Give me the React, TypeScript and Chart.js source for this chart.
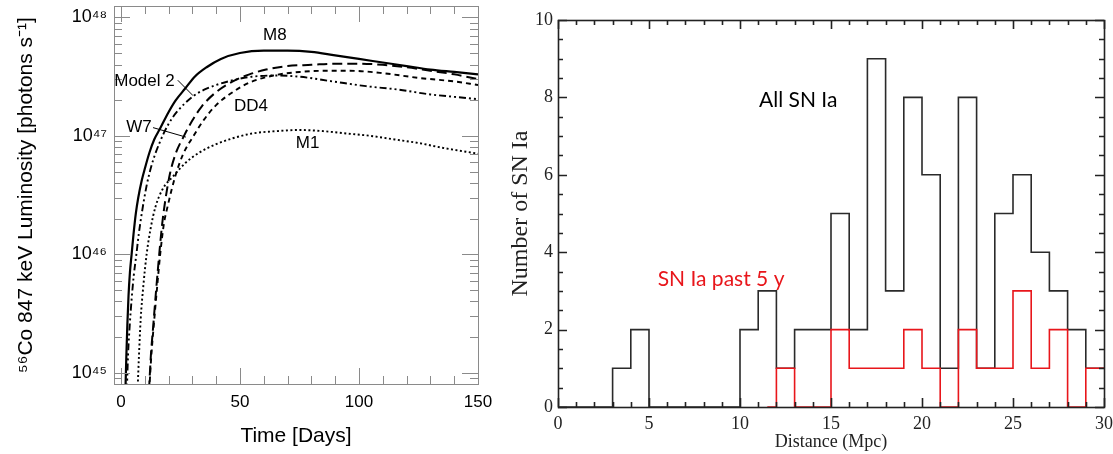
import React, { useEffect, useRef } from 'react';
import { Chart, registerables } from 'chart.js';

Chart.register(...registerables);

const SANS = '"Liberation Sans", Arial, Helvetica, sans-serif';
const SERIF = '"Liberation Serif", "Times New Roman", serif';
const CALI = 'Lato, "Open Sans", sans-serif';

// ---------------- Left panel: 56Co 847 keV light curves (log10 photons/s) ----------------
const m8Days = [1.9, 2.3, 2.7, 3.2, 3.8, 4.5, 5.3, 6.3, 7.3, 8.7, 10, 12, 14, 16.4, 20, 23, 27, 31, 36, 42, 50, 60, 70, 80, 90, 100, 110, 120, 130, 140, 150];
const m8Log = [44.85, 45.15, 45.4, 45.65, 45.85, 46.0, 46.17, 46.35, 46.48, 46.62, 46.72, 46.86, 46.97, 47.06, 47.2, 47.3, 47.4, 47.5, 47.58, 47.65, 47.7, 47.72, 47.72, 47.71, 47.68, 47.65, 47.62, 47.59, 47.56, 47.54, 47.52];

const model2Days = [2.5, 3.0, 3.7, 4.5, 5.4, 6.5, 7.5, 8.8, 10.8, 13, 16.4, 20, 23.4, 30, 35, 40, 47, 55, 65, 75, 89, 103, 117, 130, 140, 150];
const model2Log = [44.85, 45.15, 45.4, 45.62, 45.82, 46.0, 46.17, 46.35, 46.58, 46.76, 46.95, 47.1, 47.2, 47.33, 47.39, 47.43, 47.47, 47.5, 47.51, 47.5, 47.46, 47.42, 47.39, 47.35, 47.33, 47.31];

const w7Days = [11.8, 12.6, 13.6, 14.8, 16.1, 17.3, 18.6, 20.6, 23, 26.5, 30, 34, 40, 47, 54, 61, 70, 80, 90, 100, 110, 120, 130, 140, 150];
const w7Log = [44.85, 45.15, 45.4, 45.7, 46.0, 46.25, 46.45, 46.68, 46.85, 47.0, 47.13, 47.25, 47.37, 47.46, 47.52, 47.56, 47.59, 47.6, 47.61, 47.61, 47.6, 47.58, 47.55, 47.52, 47.48];

const dd4Days = [11.9, 12.8, 13.8, 15.2, 16.5, 18, 19.8, 22.7, 26, 30.5, 35, 40, 47, 54, 64, 75, 85, 96, 110, 125, 140, 150];
const dd4Log = [44.85, 45.15, 45.4, 45.72, 46.0, 46.25, 46.42, 46.65, 46.84, 47.0, 47.14, 47.26, 47.37, 47.45, 47.51, 47.54, 47.55, 47.55, 47.53, 47.49, 47.46, 47.43];

const m1Days = [7.0, 7.6, 8.3, 9.5, 10.8, 12.5, 14.5, 17.5, 22, 27, 33, 40, 47, 55, 65, 75, 85, 95, 105, 115, 125, 135, 150];
const m1Log = [44.85, 45.15, 45.45, 45.75, 46.0, 46.22, 46.4, 46.55, 46.66, 46.77, 46.86, 46.93, 46.98, 47.02, 47.04, 47.05, 47.04, 47.02, 47.0, 46.97, 46.94, 46.9, 46.85];

const timeTicks = [0, 50, 100, 150];
const lumTicks = [1e45, 1e46, 1e47, 1e48];
const lumTickLabels = ['10\u2074\u2075', '10\u2074\u2076', '10\u2074\u2077', '10\u2074\u2078'];

const curveNames = ['M8', 'Model 2', 'W7', 'DD4', 'M1'];
const curveNameDays = [64.7, 9.9, 7.6, 54.6, 78.4];
const curveNameLogs = [47.85, 47.465, 47.07, 47.25, 46.94];

// ---------------- Right panel: SN Ia distance histogram ----------------
const binEdges = [0, 1, 2, 3, 4, 5, 6, 7, 8, 9, 10, 11, 12, 13, 14, 15, 16, 17, 18, 19, 20, 21, 22, 23, 24, 25, 26, 27, 28, 29];
const allCounts = [0, 0, 0, 1, 2, 0, 0, 0, 0, 0, 2, 3, 1, 2, 2, 5, 2, 9, 3, 8, 6, 1, 8, 1, 5, 6, 4, 3, 2, 1];
const recentEdges = [11.5, 12, 13, 14, 15, 16, 17, 18, 19, 20, 21, 22, 23, 24, 25, 26, 27, 28, 29];
const recentCounts = [0, 1, 0, 0, 2, 1, 1, 1, 2, 1, 0, 2, 1, 1, 3, 1, 2, 0, 1];
const distanceTicks = [0, 5, 10, 15, 20, 25, 30];
const countTicks = [0, 2, 4, 6, 8, 10];

const toPoints = (xs: number[], logs: number[]) => xs.map((x, i) => ({ x, y: Math.pow(10, logs[i]) }));
const toSteps = (edges: number[], counts: number[], end: number) =>
  edges.map((x, i) => ({ x, y: counts[i] })).concat([{ x: end, y: counts[counts.length - 1] }]);

const frameTicksPlugin = {
  id: 'frameTicks',
  afterDatasetsDraw(chart: any, _args: any, o: any) {
    const { ctx, chartArea: a } = chart;
    const xs = chart.scales.x;
    const ys = chart.scales.y;
    const r = (v: number) => Math.round(v) + 0.5;
    ctx.save();
    ctx.strokeStyle = o.color;
    ctx.lineWidth = o.lineWidth;
    ctx.beginPath();
    const xt = (v: number, len: number) => {
      if (v < xs.min || v > xs.max) return;
      const p = r(xs.getPixelForValue(v));
      ctx.moveTo(p, a.bottom);
      ctx.lineTo(p, a.bottom - len);
      ctx.moveTo(p, a.top);
      ctx.lineTo(p, a.top + len);
    };
    const yt = (v: number, len: number) => {
      if (v < ys.min || v > ys.max) return;
      const p = r(ys.getPixelForValue(v));
      ctx.moveTo(a.left, p);
      ctx.lineTo(a.left + len, p);
      ctx.moveTo(a.right, p);
      ctx.lineTo(a.right - len, p);
    };
    o.xMinor.forEach((v: number) => xt(v, o.minorLen));
    o.xMajor.forEach((v: number) => xt(v, o.majorLen));
    o.yMinor.forEach((v: number) => yt(v, o.minorLen));
    o.yMajor.forEach((v: number) => yt(v, o.majorLen));
    ctx.stroke();
    ctx.strokeRect(r(a.left), r(a.top), Math.round(a.right - a.left), Math.round(a.bottom - a.top));
    ctx.restore();
  },
};

const notesPlugin = {
  id: 'notes',
  afterDatasetsDraw(chart: any, _args: any, o: any) {
    const { ctx } = chart;
    const xs = chart.scales.x;
    const ys = chart.scales.y;
    ctx.save();
    (o.lines || []).forEach((l: any) => {
      ctx.strokeStyle = l.color;
      ctx.lineWidth = l.width;
      ctx.beginPath();
      ctx.moveTo(xs.getPixelForValue(l.x1), ys.getPixelForValue(l.y1));
      ctx.lineTo(xs.getPixelForValue(l.x2), ys.getPixelForValue(l.y2));
      ctx.stroke();
    });
    (o.texts || []).forEach((t: any) => {
      ctx.font = t.font;
      ctx.fillStyle = t.color;
      ctx.textAlign = 'center';
      ctx.textBaseline = 'middle';
      ctx.fillText(t.text, xs.getPixelForValue(t.x), ys.getPixelForValue(t.y));
    });
    ctx.restore();
  },
};

const fitX = (h: number) => (s: any) => {
  s.height = h;
  s.paddingLeft = 0;
  s.paddingRight = 0;
};
const fitY = (w: number) => (s: any) => {
  s.width = w;
  s.paddingTop = 0;
  s.paddingBottom = 0;
};

function leftConfig(): any {
  const line = (label: string, days: number[], logs: number[], dash: number[], width: number) => ({
    label,
    data: toPoints(days, logs),
    borderColor: '#000',
    borderWidth: width,
    borderDash: dash,
    pointRadius: 0,
    fill: false,
    cubicInterpolationMode: 'monotone',
  });
  const yMinor: number[] = [];
  for (let n = 44; n <= 48; n++) for (let k = 2; k <= 9; k++) yMinor.push(k * Math.pow(10, n));
  const xMinor: number[] = [];
  for (let d = 0; d <= 150; d += 10) xMinor.push(d);
  return {
    type: 'line',
    data: {
      datasets: [
        line('M8', m8Days, m8Log, [], 2.2),
        line('W7', w7Days, w7Log, [10, 5], 2),
        line('DD4', dd4Days, dd4Log, [5, 4], 1.9),
        line('Model 2', model2Days, model2Log, [7, 3, 2, 3, 2, 3], 1.9),
        line('M1', m1Days, m1Log, [2, 2.5], 1.9),
      ],
    },
    options: {
      responsive: false,
      animation: false,
      layout: { padding: { left: 0, right: 22, top: 6, bottom: 0 } },
      plugins: {
        legend: { display: false },
        tooltip: { enabled: false },
        frameTicks: {
          color: '#8a8a8a',
          lineWidth: 1,
          majorLen: 16,
          minorLen: 8,
          xMajor: timeTicks,
          xMinor,
          yMajor: lumTicks,
          yMinor,
        },
        notes: {
          lines: [
            { x1: 23.9, y1: Math.pow(10, 47.47), x2: 30.3, y2: Math.pow(10, 47.34), color: '#000', width: 1 },
            { x1: 13.5, y1: Math.pow(10, 47.07), x2: 27.3, y2: Math.pow(10, 46.99), color: '#000', width: 1 },
          ],
          texts: curveNames.map((t, i) => ({
            text: t,
            x: curveNameDays[i],
            y: Math.pow(10, curveNameLogs[i]),
            font: `17px ${SANS}`,
            color: '#000',
          })),
        },
      },
      scales: {
        x: {
          type: 'linear',
          min: -2.9,
          max: 150,
          afterBuildTicks: (s: any) => {
            s.ticks = timeTicks.map((v) => ({ value: v }));
          },
          afterFit: fitX(70),
          grid: { display: false, drawTicks: false },
          border: { display: false },
          ticks: { font: { family: SANS, size: 17 }, color: '#000', padding: 8, maxRotation: 0 },
          title: {
            display: true,
            text: 'Time [Days]',
            font: { family: SANS, size: 21 },
            color: '#000',
            padding: { top: 0, bottom: 5 },
          },
        },
        y: {
          type: 'logarithmic',
          min: Math.pow(10, 44.905),
          max: Math.pow(10, 48.097),
          afterBuildTicks: (s: any) => {
            s.ticks = lumTicks.map((v) => ({ value: v }));
          },
          afterFit: fitY(114),
          grid: { display: false, drawTicks: false },
          border: { display: false },
          ticks: {
            font: { family: SANS, size: 18 },
            color: '#000',
            padding: 7,
            callback: (_v: any, i: number) => lumTickLabels[i],
          },
          title: {
            display: true,
            text: '\u2075\u2076Co 847 keV Luminosity [photons s\u207B\u00B9]',
            font: { family: SANS, size: 21 },
            color: '#000',
            padding: { top: 14, bottom: 0 },
          },
        },
      },
    },
    plugins: [frameTicksPlugin, notesPlugin],
  };
}

function rightConfig(): any {
  const xMinor: number[] = [];
  for (let d = 0; d <= 30; d += 1) xMinor.push(d);
  const yMinor: number[] = [];
  for (let c = 0; c <= 10; c += 0.5) yMinor.push(c);
  return {
    type: 'line',
    data: {
      datasets: [
        {
          label: 'SN Ia past 5 y',
          data: toSteps(recentEdges, recentCounts, 30),
          borderColor: '#e8161b',
          borderWidth: 1.6,
          stepped: 'before',
          pointRadius: 0,
          fill: false,
          order: 0,
        },
        {
          label: 'All SN Ia',
          data: toSteps(binEdges, allCounts, 30),
          borderColor: '#2a2a2a',
          borderWidth: 1.6,
          stepped: 'before',
          pointRadius: 0,
          fill: false,
          order: 1,
        },
      ],
    },
    options: {
      responsive: false,
      animation: false,
      layout: { padding: { left: 0, right: 9, top: 20, bottom: 0 } },
      plugins: {
        legend: { display: false },
        tooltip: { enabled: false },
        frameTicks: {
          color: '#222',
          lineWidth: 1.6,
          majorLen: 9,
          minorLen: 5,
          xMajor: distanceTicks,
          xMinor,
          yMajor: countTicks,
          yMinor,
        },
        notes: {
          texts: [
            { text: 'All SN Ia', x: 13.2, y: 7.93, font: `21px ${CALI}`, color: '#000' },
            { text: 'SN Ia past 5 y', x: 8.96, y: 3.31, font: `21px ${CALI}`, color: '#e8161b' },
          ],
        },
      },
      scales: {
        x: {
          type: 'linear',
          min: 0,
          max: 30,
          afterBuildTicks: (s: any) => {
            s.ticks = distanceTicks.map((v) => ({ value: v }));
          },
          afterFit: fitX(47),
          grid: { display: false, drawTicks: false },
          border: { display: false },
          ticks: { font: { family: SERIF, size: 18 }, color: '#222', padding: 6, maxRotation: 0 },
          title: {
            display: true,
            text: 'Distance (Mpc)',
            font: { family: SERIF, size: 18 },
            color: '#222',
            padding: { top: 0, bottom: 1 },
          },
        },
        y: {
          type: 'linear',
          min: 0,
          max: 10,
          afterBuildTicks: (s: any) => {
            s.ticks = countTicks.map((v) => ({ value: v }));
          },
          afterFit: fitY(58),
          grid: { display: false, drawTicks: false },
          border: { display: false },
          ticks: { font: { family: SERIF, size: 18 }, color: '#222', padding: 5 },
          title: {
            display: true,
            text: 'Number of SN Ia',
            font: { family: SERIF, size: 24 },
            color: '#222',
            padding: { top: 6, bottom: 0 },
          },
        },
      },
    },
    plugins: [frameTicksPlugin, notesPlugin],
  };
}

export default function App() {
  const leftRef = useRef<HTMLCanvasElement>(null);
  const rightRef = useRef<HTMLCanvasElement>(null);
  useEffect(() => {
    const c1 = new Chart(leftRef.current as HTMLCanvasElement, leftConfig());
    const c2 = new Chart(rightRef.current as HTMLCanvasElement, rightConfig());
    return () => {
      c1.destroy();
      c2.destroy();
    };
  }, []);
  return (
    <div style={{ position: 'absolute', left: 0, top: 0, width: 1113, height: 454, background: '#fff', overflow: 'hidden' }}>
      <canvas ref={leftRef} width={500} height={454} style={{ position: 'absolute', left: 0, top: 0, width: 500, height: 454 }} />
      <canvas ref={rightRef} width={613} height={454} style={{ position: 'absolute', left: 500, top: 0, width: 613, height: 454 }} />
    </div>
  );
}
